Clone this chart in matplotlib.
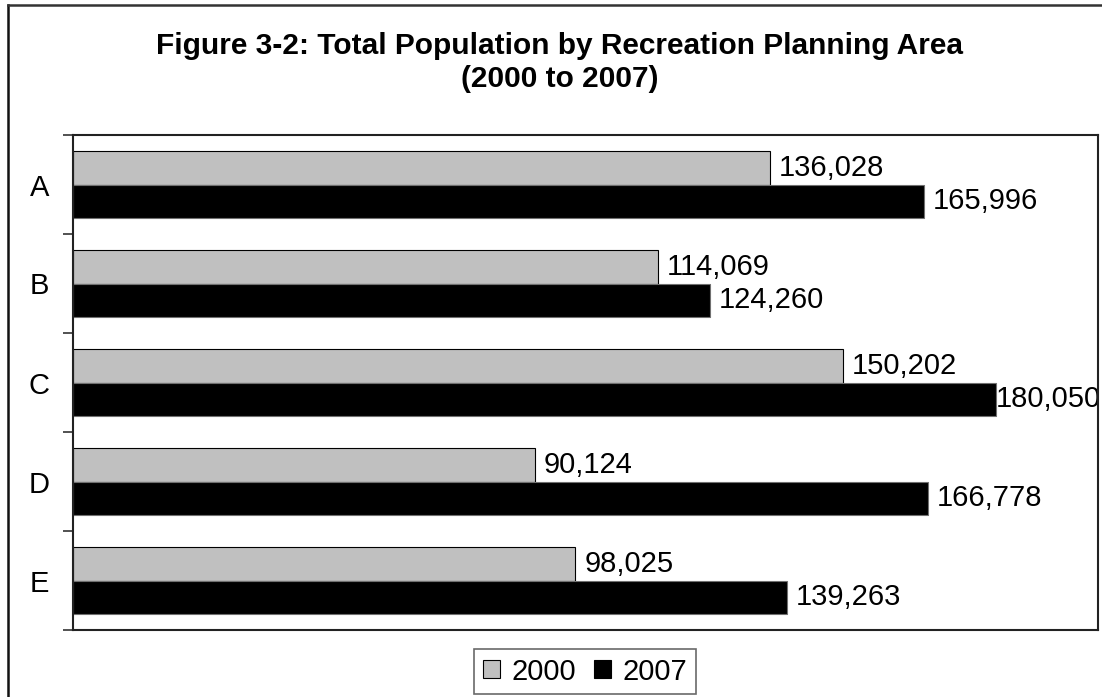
import matplotlib
matplotlib.use("Agg")
import matplotlib.pyplot as plt
from matplotlib.lines import Line2D
from matplotlib.patches import Patch
import numpy as np

categories = ["A", "B", "C", "D", "E"]
pop_2000 = [136028, 114069, 150202, 90124, 98025]
pop_2007 = [165996, 124260, 180050, 166778, 139263]
series_names = ["2000", "2007"]
title_line1 = "Figure 3-2: Total Population by Recreation Planning Area"
title_line2 = "(2000 to 2007)"

plt.rcParams['font.family'] = ['Liberation Sans', 'DejaVu Sans']

W, H = 1102, 697
fig = plt.figure(figsize=(W / 100, H / 100), dpi=100)
ax = fig.add_axes([73 / W, 1 - 630 / H, (1098 - 73) / W, (630 - 135) / H])

y = np.arange(len(categories))
bh = 0.34
ax.barh(y - bh / 2, pop_2000, height=bh, color="#c0c0c0", edgecolor="#000000", linewidth=0.8, label=series_names[0])
ax.barh(y + bh / 2, pop_2007, height=bh, color="#000000", edgecolor="#707070", linewidth=0.8, label=series_names[1])

labels = []
for yi, v in zip(y, pop_2000):
    labels.append(ax.annotate(f"{v:,}", (v, yi - bh / 2), xytext=(6.5, 0), textcoords="offset points",
                              va="center", ha="left", fontsize=21, color="black", annotation_clip=False,
                              zorder=1))
for yi, v in zip(y, pop_2007):
    labels.append(ax.annotate(f"{v:,}", (v, yi + bh / 2), xytext=(6.5, 0), textcoords="offset points",
                              va="center", ha="left", fontsize=21, color="black", annotation_clip=False,
                              zorder=1))

ax.set_xlim(0, 200000)
ax.set_ylim(len(categories) - 0.5, -0.5)
ax.set_xticks([])
ax.set_yticks(np.arange(-0.5, len(categories)), labels=[""] * (len(categories) + 1))
ax.tick_params(axis="y", which="major", length=7, width=1.2, color="#333333", direction="out")
ax.set_yticks(y, labels=categories, minor=True)
ax.tick_params(axis="y", which="minor", length=0, labelsize=21, pad=17)
for s in ax.spines.values():
    s.set_linewidth(1.5)
    s.set_color("#222222")
    s.set_zorder(5)

fig.text(560 / W, 1 - 54 / H, title_line1, ha="center", va="baseline", fontsize=21.5, fontweight="bold")
fig.text(560 / W, 1 - 87 / H, title_line2, ha="center", va="baseline", fontsize=21.5, fontweight="bold")

# outer chart border (left and top visible)
fig.add_artist(Line2D([8 / W, 8 / W], [0, 1 - 5 / H], transform=fig.transFigure, color="#111111", linewidth=1.8))
fig.add_artist(Line2D([8 / W, 1], [1 - 5 / H, 1 - 5 / H], transform=fig.transFigure, color="#333333", linewidth=1.8))

handles = [Patch(facecolor="#c0c0c0", edgecolor="#000000", linewidth=0.8),
           Patch(facecolor="#000000", edgecolor="#000000", linewidth=0.8)]
leg = fig.legend(handles, series_names, loc="center", bbox_to_anchor=(585 / W, 1 - 671.5 / H),
                 ncol=2, fontsize=21, frameon=True, fancybox=False, handlelength=0.6, handleheight=0.6,
                 handletextpad=0.38, columnspacing=0.6, borderpad=0.3, borderaxespad=0)
leg.get_frame().set_edgecolor("#444444")
leg.get_frame().set_linewidth(1.2)

# keep data labels inside the figure (like the reference, where the widest label is pulled in)
fig.canvas.draw()
renderer = fig.canvas.get_renderer()
for t in labels:
    bb = t.get_window_extent(renderer)
    limit = W - 1
    if bb.x1 > limit:
        dx_pt = (bb.x1 - limit) * 72 / fig.dpi
        ox, oy = t.xyann
        t.xyann = (ox - dx_pt, oy)

fig.savefig("out.png", dpi=100)
